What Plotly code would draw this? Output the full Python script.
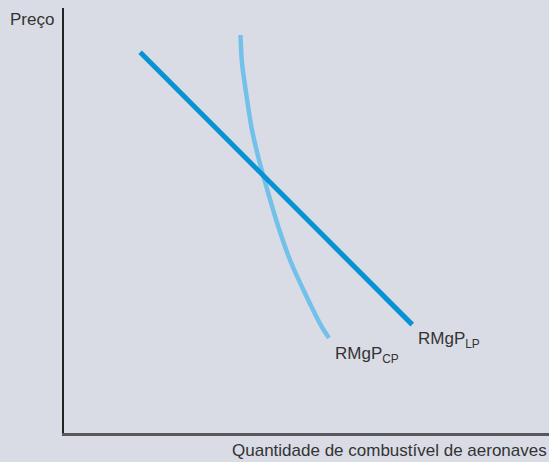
import plotly.graph_objects as go

# Data (economic units, arbitrary 0-100 scale)
lp_x = [15.7, 71.8]
lp_y = [89.6, 25.5]

cp_x = [36.39, 36.70, 37.67, 38.76, 40.21, 42.12, 44.19, 46.60, 49.69, 53.13, 54.64]
cp_y = [93.65, 87.06, 79.06, 71.29, 64.24, 56.40, 48.54, 40.71, 32.87, 25.01, 22.35]

labels = ["RMgP<sub>CP</sub>", "RMgP<sub>LP</sub>"]
label_x = [55.4, 72.6]
label_y = [21.4, 24.9]

FONT = "Liberation Sans, Arial, sans-serif"
BG = "#d9dce5"

fig = go.Figure()
fig.add_trace(go.Scatter(x=cp_x, y=cp_y, mode="lines",
                         line=dict(color="#72c1ea", width=4.5, shape="spline", smoothing=0.8),
                         hoverinfo="skip"))
fig.add_trace(go.Scatter(x=lp_x, y=lp_y, mode="lines",
                         line=dict(color="#0892d6", width=5),
                         hoverinfo="skip"))

for t, x, y in zip(labels, label_x, label_y):
    fig.add_annotation(x=x, y=y, text=t, showarrow=False, xanchor="left", yanchor="top",
                       font=dict(family=FONT, size=17, color="#333333"))

fig.add_annotation(xref="paper", yref="paper", x=-0.115, y=1.0, text="Preço", showarrow=False,
                   xanchor="left", yanchor="top", font=dict(family=FONT, size=17, color="#333333"))
fig.add_annotation(xref="paper", yref="paper", x=1.0, y=-0.015, text="Quantidade de combustível de aeronaves",
                   showarrow=False, xanchor="right", yanchor="top",
                   font=dict(family=FONT, size=17, color="#333333"))

fig.update_layout(
    width=549, height=462,
    margin=dict(l=64, r=0, t=8, b=29, autoexpand=False),
    paper_bgcolor=BG, plot_bgcolor=BG,
    showlegend=False,
    xaxis=dict(range=[0, 100], showgrid=False, zeroline=False, showticklabels=False, ticks="",
               showline=True, linecolor="#58585c", linewidth=3, fixedrange=True),
    yaxis=dict(range=[0, 100], showgrid=False, zeroline=False, showticklabels=False, ticks="",
               showline=True, linecolor="#222222", linewidth=2, fixedrange=True),
)

fig.write_html("out.html", config={"displayModeBar": False},
               post_script="document.body.style.margin='0';document.body.style.padding='0';"
                           "document.documentElement.style.overflow='hidden';")
